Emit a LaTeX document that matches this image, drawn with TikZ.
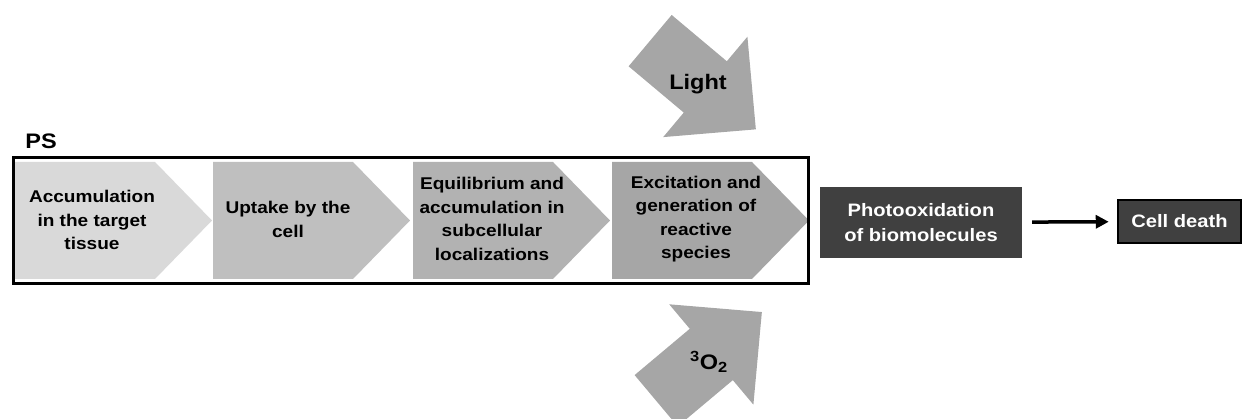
\documentclass[tikz,border=0pt]{standalone}
\usepackage{fontspec}
\setmainfont{Liberation Sans}[FakeStretch=1.12]
\usepackage{tikz}
\usetikzlibrary{arrows.meta,positioning}

\definecolor{stepone}{HTML}{D9D9D9}
\definecolor{steptwo}{HTML}{BFBFBF}
\definecolor{stepthree}{HTML}{B2B2B2}
\definecolor{stepfour}{HTML}{A6A6A6}
\definecolor{blockgray}{HTML}{A6A6A6}
\definecolor{boxgray}{HTML}{404040}

\begin{document}
\begin{tikzpicture}[x=1pt, y=1pt,
	steptext/.style={font=\bfseries\fontsize{17}{23.5}\selectfont, align=center, inner sep=0pt},
	bigarrow/.style={fill=blockgray},
	arrowtext/.style={font=\bfseries\fontsize{21}{24}\selectfont, inner sep=0pt},
	darkbox/.style={fill=boxgray, text=white, font=\bfseries\fontsize{18}{25}\selectfont, align=center, inner sep=0pt},
	flowarrow/.style={-{Triangle[length=13pt, width=13pt]}, line width=3.5pt}]
	\useasboundingbox (0,0) rectangle (1243,419); % Rand um Grafik
	
	% Schritte des PS
	\foreach \x/\col in {15/stepone, 213/steptwo, 413/stepthree, 612/stepfour}
		\fill[\col] (\x,140) -- ++(140,0) -- ++(57,58.5) -- ++(-57,58.5) -- ++(-140,0) -- cycle;
	\draw[line width=3pt] (13,135) rectangle (808,261);
	\node[font=\bfseries\fontsize{21}{24}\selectfont, inner sep=0pt] (ps) at (41,277.5) {PS};
	
	\node[steptext] (accum) at (92,199) {Accumulation\\in the target\\tissue};
	\node[steptext] (uptake) at (288,199.5) {Uptake by the\\cell};
	\node[steptext] (equil) at (492,200) {Equilibrium and\\accumulation in\\subcellular\\localizations};
	\node[steptext] (excit) at (696,200) {Excitation and\\generation of\\reactive\\species};
	
	% Licht von oben
	\begin{scope}[shift={(703,334)}, rotate=-40]
		\fill[bigarrow] (-69,-33.5) -- (3,-33.5) -- (3,-65.5) -- (69,0) -- (3,65.5) -- (3,33.5) -- (-69,33.5) -- cycle;
	\end{scope}
	\node[arrowtext] (light) at (698,335) {Light};
	
	% Sauerstoff von unten
	\begin{scope}[shift={(709,62.6)}, rotate=40]
		\fill[bigarrow] (-69,-33.5) -- (3,-33.5) -- (3,-65.5) -- (69,0) -- (3,65.5) -- (3,33.5) -- (-69,33.5) -- cycle;
	\end{scope}
	\node[arrowtext] (oxygen) at (709,57) {\textsuperscript{3}O\textsubscript{2}};
	
	% Folgen
	\node[darkbox, minimum width=202, minimum height=71] (photo) at (921,196.5) {Photooxidation\\of biomolecules};
	\node[darkbox, draw=black, line width=2.5pt, minimum width=123, minimum height=43] (death) at (1179.5,197.5) {Cell death};
	\draw[flowarrow, shorten <=10pt, shorten >=8pt] (photo) -- (death);
	
	%\draw[help lines] (0,0) grid (1243,419);
\end{tikzpicture}
\end{document}
